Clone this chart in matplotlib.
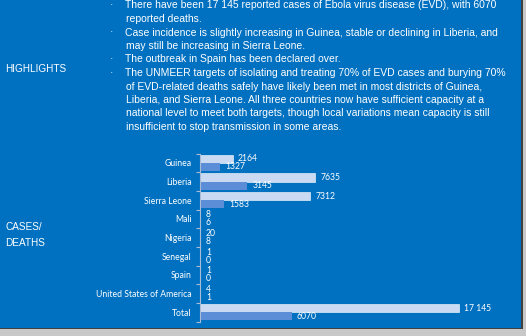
import matplotlib
matplotlib.use("Agg")
import matplotlib.pyplot as plt
import numpy as np

categories = ["Guinea", "Liberia", "Sierra Leone", "Mali", "Nigeria", "Senegal",
              "Spain", "United States of America", "Total"]
cases = [2164, 7635, 7312, 8, 20, 1, 1, 4, 17145]
deaths = [1327, 3145, 1583, 6, 8, 0, 0, 1, 6070]

highlights = [
    ("There have been 17 145 reported cases of Ebola virus disease (EVD), with 6070", True),
    ("reported deaths.", False),
    ("Case incidence is slightly increasing in Guinea, stable or declining in Liberia, and", True),
    ("may still be increasing in Sierra Leone.", False),
    ("The outbreak in Spain has been declared over.", True),
    ("The UNMEER targets of isolating and treating 70% of EVD cases and burying 70%", True),
    ("of EVD-related deaths safely have likely been met in most districts of Guinea,", False),
    ("Liberia, and Sierra Leone. All three countries now have sufficient capacity at a", False),
    ("national level to meet both targets, though local variations mean capacity is still", False),
    ("insufficient to stop transmission in some areas.", False),
]

W, H = 526, 336
BLUE = "#0070C0"
CASE_C = "#C9DAF2"
DEATH_C = "#5B8ED6"

fig = plt.figure(figsize=(W / 100, H / 100), dpi=100)
fig.patch.set_facecolor("white")

def fx(x):
    return x / W

def fy(y):
    return 1 - y / H

# gray shadow + blue panel
fig.add_artist(plt.Rectangle((fx(0), fy(336)), fx(526), 336 / H, transform=fig.transFigure,
                             facecolor="#C8C8C8", edgecolor="none", zorder=0))
fig.add_artist(plt.Rectangle((fx(0), fy(329)), fx(523), 329 / H, transform=fig.transFigure,
                             facecolor="#404040", edgecolor="none", zorder=0))
fig.add_artist(plt.Rectangle((fx(0), fy(328)), fx(521), 328 / H, transform=fig.transFigure,
                             facecolor=BLUE, edgecolor="none", zorder=0))

tfont = dict(family="Liberation Sans", size=7.5, color="white")
for i, (line, bullet) in enumerate(highlights):
    y = 5.5 + 13.5 * i
    if bullet:
        fig.text(fx(110), fy(y), "·", ha="left", va="center", **tfont)
    fig.text(fx(125 if bullet else 126), fy(y), line, ha="left", va="center", **tfont)

hfont = dict(family="Liberation Sans", size=7.2, color="white")
fig.text(fx(5), fy(69), "HIGHLIGHTS", ha="left", va="center", **hfont)
fig.text(fx(5), fy(227), "CASES/", ha="left", va="center", **hfont)
fig.text(fx(5), fy(243), "DEATHS", ha="left", va="center", **hfont)

# bar chart
ax_top, ax_bot = 153.5, 321.5
ax = fig.add_axes([fx(200), fy(ax_bot), fx(320), (ax_bot - ax_top) / H])
ax.set_facecolor("none")
n = len(categories)
y = np.arange(n)
bh = 0.43
ax.barh(y - bh / 2, cases, height=bh, color=CASE_C, edgecolor="white", linewidth=0.4)
ax.barh(y + bh / 2, deaths, height=bh, color=DEATH_C, edgecolor="none")
ax.set_xlim(0, 320 * 66.3)
ax.set_ylim(n - 0.5, -0.5)

def fmt(v):
    return f"{v:,}".replace(",", " ") if v >= 10000 else str(v)

lfont = dict(family="Lato", size=6.2, color="white")
pad = 5 * 66.3
for i in range(n):
    ax.text(cases[i] + pad if cases[i] > 100 else 6 * 66.3, y[i] - bh / 2, fmt(cases[i]),
            ha="left", va="center", **lfont)
    ax.text(deaths[i] + pad if deaths[i] > 100 else 6 * 66.3, y[i] + bh / 2, fmt(deaths[i]),
            ha="left", va="center", **lfont)

ax.set_yticks(y)
ax.set_yticklabels(categories, **lfont)
ax.set_yticks(np.arange(n + 1) - 0.5, minor=True)
ax.tick_params(axis="y", which="major", length=0, pad=6)
ax.tick_params(axis="y", which="minor", length=3, color="#A9BCD6", width=0.8)
ax.set_xticks([])
for s in ["top", "right", "bottom"]:
    ax.spines[s].set_visible(False)
ax.spines["left"].set_color("#A9BCD6")
ax.spines["left"].set_linewidth(0.8)

fig.savefig("out.png", dpi=100, facecolor=fig.get_facecolor())
